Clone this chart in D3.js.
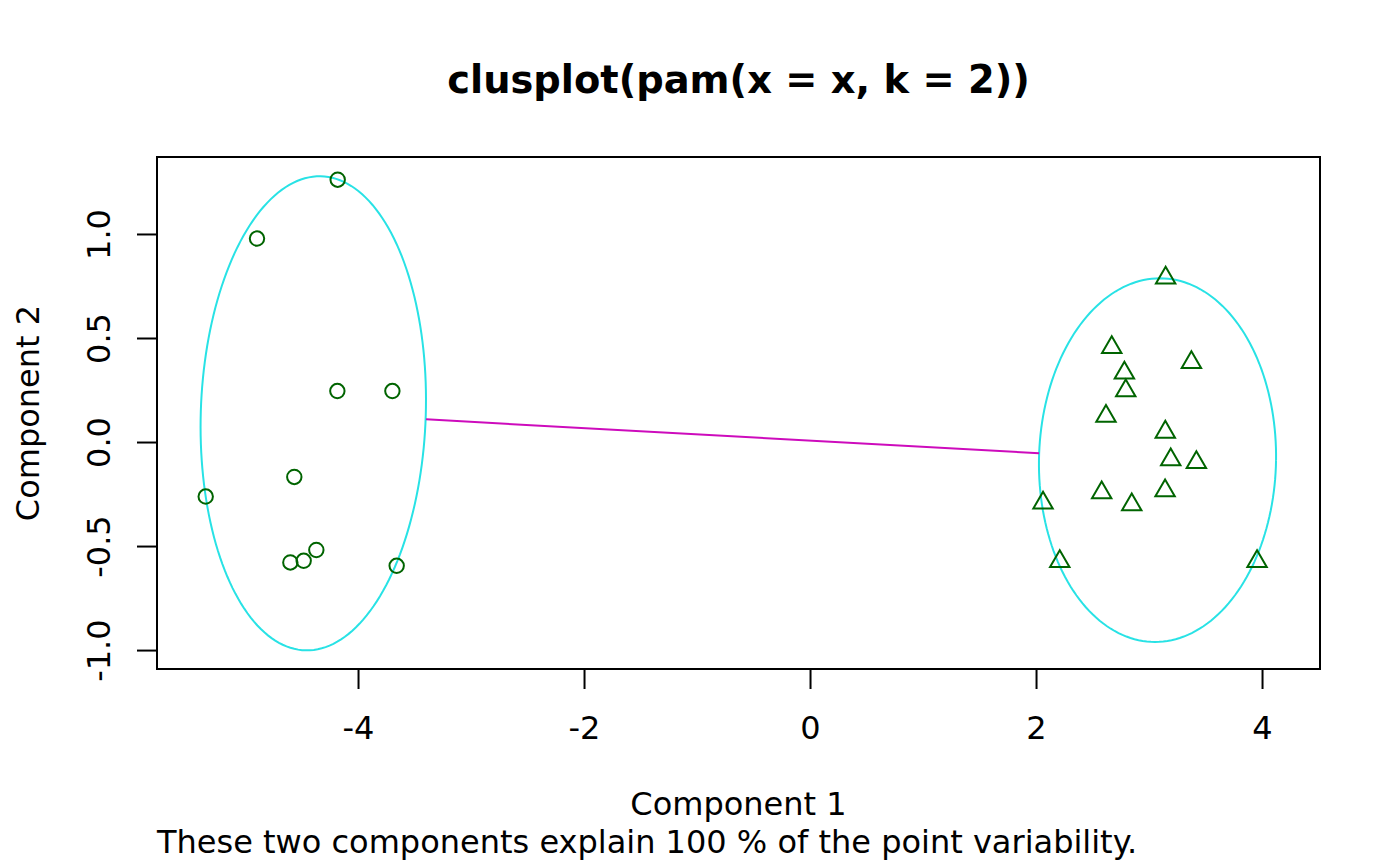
<!DOCTYPE html>
<html>
<head>
<meta charset="utf-8">
<script src="https://cdn.jsdelivr.net/npm/d3@7"></script>
<style>
  body { margin: 0; background: #fff; }
  svg { display: block; font-family: "DejaVu Sans", sans-serif; }
</style>
</head>
<body>
<svg width="1400" height="866"></svg>
<script>
// cluster 1 (circles) and cluster 2 (triangles), component scores
var circleX = [-4.180, -4.894, -4.183, -3.696, -4.564, -5.348, -4.599, -4.481, -4.369, -3.658];
var circleY = [1.261, 0.978, 0.245, 0.245, -0.168, -0.262, -0.579, -0.571, -0.519, -0.595];
var triX = [3.147, 2.670, 2.782, 2.794, 3.375, 2.619, 3.144, 3.192, 3.419, 2.062, 2.581, 2.847, 3.142, 2.210, 3.956];
var triY = [0.789, 0.455, 0.332, 0.247, 0.383, 0.124, 0.048, -0.085, -0.098, -0.293, -0.243, -0.301, -0.234, -0.574, -0.574];

// spanning ellipses: centre, half widths, small skew terms
var ellCX = [-4.396, 3.075];
var ellCY = [0.138, -0.087];
var ellRX = [0.997, 1.049];
var ellRY = [1.139, 0.874];
var ellH = [0.030, 0.022];
var ellK = [0.030, 0.0];

// line between the two ellipses
var segX = [-3.398, 2.027];
var segY = [0.109, -0.054];

var xTicks = [-4, -2, 0, 2, 4];
var yTicks = [-1.0, -0.5, 0.0, 0.5, 1.0];

var titleText = "clusplot(pam(x = x, k = 2))";
var xLabel = "Component 1";
var yLabel = "Component 2";
var subText = "These two components explain 100 % of the point variability.";

var svg = d3.select("svg"),
    margin = {top: 157, right: 80, bottom: 197, left: 157},
    width = +svg.attr("width") - margin.left - margin.right,
    height = +svg.attr("height") - margin.top - margin.bottom,
    g = svg.append("g").attr("transform", "translate(" + margin.left + "," + margin.top + ")");

var x = d3.scaleLinear()
    .domain([-5.779, 4.513])
    .range([0, width]);

var y = d3.scaleLinear()
    .domain([-1.091, 1.370])
    .range([height, 0]);

// ellipses
var ellLine = d3.line()
    .x(function(d) { return x(d[0]); })
    .y(function(d) { return y(d[1]); });

var tt = d3.range(0, 361, 2).map(function(a) { return a * Math.PI / 180; });
ellCX.forEach(function(cx, i) {
    var pts = tt.map(function(t) {
        return [cx + ellRX[i] * Math.cos(t) + ellH[i] * Math.sin(t),
                ellCY[i] + ellRY[i] * Math.sin(t) + ellK[i] * Math.cos(t)];
    });
    g.append("path")
        .datum(pts)
        .attr("d", ellLine)
        .attr("fill", "none")
        .attr("stroke", "#28E2E5")
        .attr("stroke-width", 2);
});

g.append("line")
    .attr("x1", x(segX[0])).attr("y1", y(segY[0]))
    .attr("x2", x(segX[1])).attr("y2", y(segY[1]))
    .attr("stroke", "#CD0BBC")
    .attr("stroke-width", 2);

// points
var sz = 7.2;
g.selectAll(".c1")
    .data(circleX)
    .enter().append("circle")
    .attr("cx", function(d) { return x(d); })
    .attr("cy", function(d, i) { return y(circleY[i]); })
    .attr("r", sz)
    .attr("fill", "none")
    .attr("stroke", "#006400")
    .attr("stroke-width", 2);

g.selectAll(".c2")
    .data(triX)
    .enter().append("path")
    .attr("d", function(d, i) {
        var px = x(d), py = y(triY[i]);
        var r = 1.555 * sz, xc = 1.347 * sz, yc = 0.777 * sz;
        return "M" + px + "," + (py - r) + "L" + (px + xc) + "," + (py + yc) +
               "L" + (px - xc) + "," + (py + yc) + "Z";
    })
    .attr("fill", "none")
    .attr("stroke", "#006400")
    .attr("stroke-width", 2)
    .attr("stroke-linejoin", "miter");

// axes
var xa = g.append("g")
    .attr("transform", "translate(0," + height + ")")
    .call(d3.axisBottom(x).tickValues(xTicks).tickSize(20).tickPadding(27)
        .tickFormat(function(d) { return String(d); }));

var ya = g.append("g")
    .call(d3.axisLeft(y).tickValues(yTicks).tickSize(20)
        .tickFormat(function(d) { return d.toFixed(1); }));

[xa, ya].forEach(function(a) {
    a.select(".domain").remove();
    a.selectAll("line").attr("stroke", "#000").attr("stroke-width", 2);
    a.selectAll("text").attr("fill", "#000").style("font-size", "32px")
        .style("font-family", "DejaVu Sans");
});

ya.selectAll("text")
    .attr("x", null).attr("dy", null)
    .attr("text-anchor", "middle")
    .attr("transform", "translate(-47,0) rotate(-90)");

// box
g.append("rect")
    .attr("width", width)
    .attr("height", height)
    .attr("fill", "none")
    .attr("stroke", "#000")
    .attr("stroke-width", 2);

// texts
svg.append("text")
    .attr("x", margin.left + width / 2).attr("y", 93)
    .attr("text-anchor", "middle")
    .style("font-size", "38.4px").style("font-weight", "bold")
    .text(titleText);

svg.append("text")
    .attr("x", margin.left + width / 2).attr("y", 815)
    .attr("text-anchor", "middle")
    .style("font-size", "32px")
    .text(xLabel);

svg.append("text")
    .attr("transform", "translate(39," + (margin.top + height / 2) + ") rotate(-90)")
    .attr("text-anchor", "middle")
    .style("font-size", "32px")
    .text(yLabel);

svg.append("text")
    .attr("x", margin.left).attr("y", 853)
    .style("font-size", "32px")
    .text(subText);
</script>
</body>
</html>
